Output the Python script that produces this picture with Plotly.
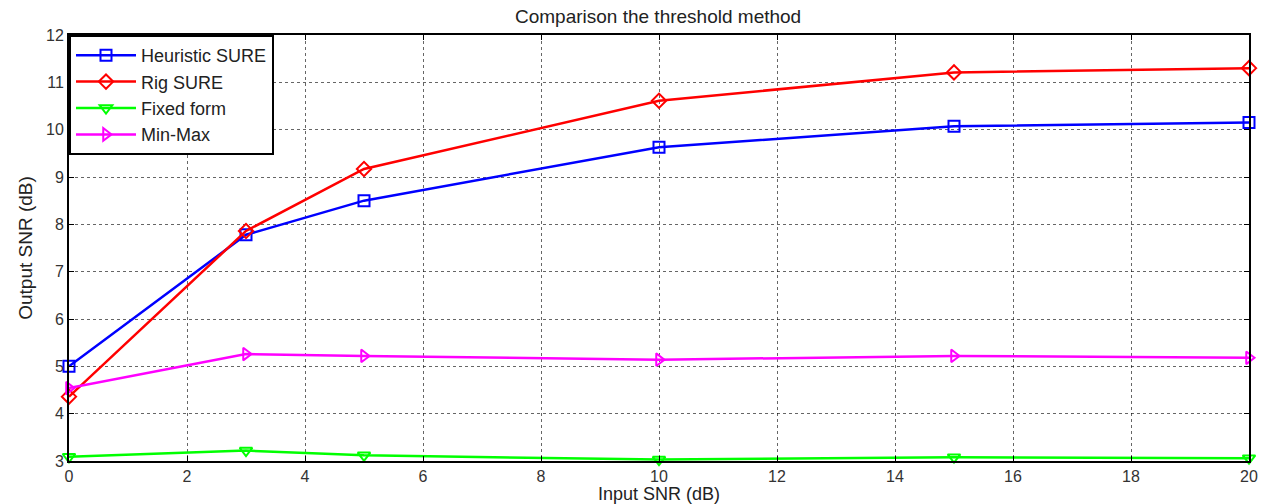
import plotly.graph_objects as go

input_snr = [0, 3, 5, 10, 15, 20]
heuristic_sure = [5.0, 7.78, 8.5, 9.63, 10.07, 10.15]
rig_sure = [4.36, 7.86, 9.17, 10.61, 11.21, 11.3]
fixed_form = [3.09, 3.22, 3.12, 3.03, 3.08, 3.06]
min_max = [4.54, 5.26, 5.22, 5.14, 5.22, 5.18]

series = [
    ("Heuristic SURE", heuristic_sure, "#0000ff", "square-open"),
    ("Rig SURE", rig_sure, "#ff0000", "diamond-open"),
    ("Fixed form", fixed_form, "#00ff00", "triangle-down-open"),
    ("Min-Max", min_max, "#ff00ff", "triangle-right-open"),
]

FONT = "Liberation Sans, Arial"

fig = go.Figure()
for name, vals, color, sym in series:
    fig.add_trace(go.Scatter(
        x=input_snr, y=vals, name=name, mode="lines+markers",
        line=dict(color=color, width=2.5),
        marker=dict(symbol=sym, size=11, color=color, line=dict(width=2, color=color)),
        cliponaxis=False,
    ))

axis_common = dict(
    showline=True, linecolor="black", linewidth=2, mirror="ticks",
    ticks="inside", ticklen=5, tickcolor="black",
    showgrid=True, gridcolor="rgba(0,0,0,0.6)", griddash="dot", gridwidth=1,
    zeroline=False, automargin=False,
    tickfont=dict(family=FONT, size=16, color="#333"),
)

fig.update_layout(
    width=1268, height=504,
    margin=dict(l=69, r=19, t=35, b=43),
    paper_bgcolor="white", plot_bgcolor="white",
    title=dict(text="Comparison the threshold method", x=0.519, xanchor="center",
               y=0.968, yanchor="middle", automargin=False,
               font=dict(family=FONT, size=19, color="#222")),
    font=dict(family=FONT, color="#222"),
    xaxis=dict(range=[0, 20], dtick=2, tick0=0,
               title=dict(text="Input SNR (dB)", standoff=2,
                          font=dict(size=18, family=FONT)),
               **axis_common),
    yaxis=dict(range=[3, 12], dtick=1, tick0=3,
               title=dict(text="Output SNR (dB)", standoff=8,
                          font=dict(size=19, family=FONT)),
               **axis_common),
    legend=dict(x=0, y=1, xanchor="left", yanchor="top",
                bgcolor="white", bordercolor="black", borderwidth=2,
                font=dict(family=FONT, size=18, color="#222"),
                tracegroupgap=0, itemwidth=60),
    showlegend=True,
)

fig.write_html("out.html", config={"displayModeBar": False},
               post_script="document.body.style.margin='0px';document.body.style.overflow='hidden';")
